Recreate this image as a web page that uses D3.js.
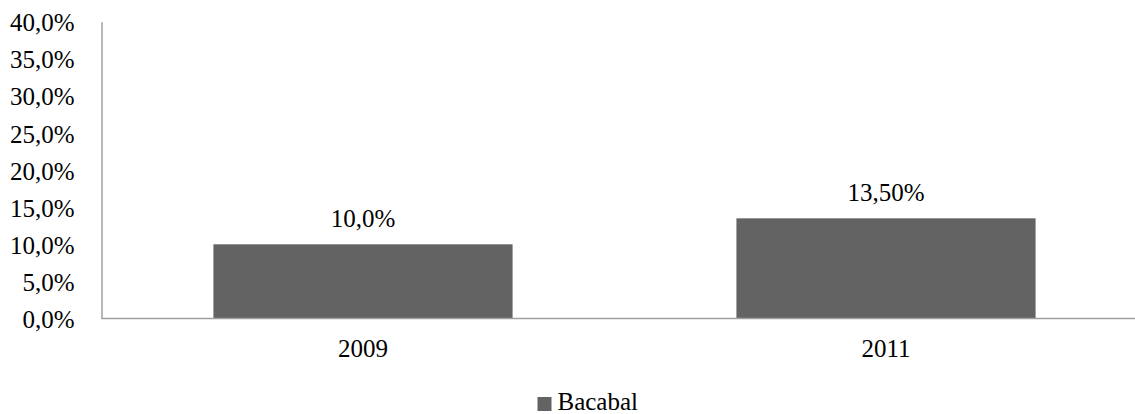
<!DOCTYPE html>
<html>
<head>
<meta charset="utf-8">
<script src="https://cdn.jsdelivr.net/npm/d3@7"></script>
<style>
  html, body { margin: 0; padding: 0; background: #fff; }
  svg { display: block; }
  svg text { font-family: "Liberation Serif", "Times New Roman", serif; fill: #000; }
</style>
</head>
<body>
<svg id="chart" width="1135" height="414"></svg>
<script>
// Share of the population, Bacabal
const categories = ["2009", "2011"];
const values = [10.0, 13.5];
const valueLabels = ["10,0%", "13,50%"];
const seriesName = "Bacabal";
const yTicks = [0, 5, 10, 15, 20, 25, 30, 35, 40];

(function () {
  const svg = d3.select("#chart");
  const W = 1135;
  const plotLeft = 101.5, plotRight = 1147.5, plotTop = 21.7, plotBottom = 318.5;
  const fontSize = 25;
  const barColor = "#636363";
  const axisColor = "#a0a0a0";

  const x = d3.scaleBand()
    .domain(categories)
    .range([plotLeft, plotRight])
    .paddingInner(0.428)
    .paddingOuter(0.214);

  const y = d3.scaleLinear().domain([0, 40]).range([plotBottom, plotTop]);

  const fmt = v => v.toFixed(1).replace(".", ",") + "%";

  // Y axis: labels only, with a plain vertical line
  const yAxis = d3.axisLeft(y).tickValues(yTicks).tickFormat(fmt).tickSize(0).tickPadding(27);
  const gy = svg.append("g").attr("transform", `translate(${plotLeft},0)`).call(yAxis);
  gy.attr("font-family", null).attr("font-size", fontSize);
  gy.select(".domain").attr("stroke", axisColor).attr("stroke-width", 1.5);
  gy.selectAll("text").attr("dy", "0.36em");

  // Bars
  svg.append("g").selectAll("rect")
    .data(categories)
    .join("rect")
    .attr("x", d => x(d))
    .attr("width", x.bandwidth())
    .attr("y", (d, i) => y(values[i]))
    .attr("height", (d, i) => plotBottom - y(values[i]))
    .attr("fill", barColor);

  // X axis
  svg.append("line")
    .attr("x1", plotLeft).attr("x2", W)
    .attr("y1", plotBottom).attr("y2", plotBottom)
    .attr("stroke", axisColor).attr("stroke-width", 1.5);

  const xAxis = d3.axisBottom(x).tickSize(0).tickPadding(21);
  const gx = svg.append("g").attr("transform", `translate(0,${plotBottom})`).call(xAxis);
  gx.attr("font-family", null).attr("font-size", fontSize);
  gx.select(".domain").remove();

  // Value labels
  svg.append("g").selectAll("text")
    .data(categories)
    .join("text")
    .attr("x", d => x(d) + x.bandwidth() / 2)
    .attr("y", (d, i) => y(values[i]) - 17)
    .attr("text-anchor", "middle")
    .attr("font-size", fontSize)
    .text((d, i) => valueLabels[i]);

  // Legend
  const legend = svg.append("g").attr("transform", "translate(537.5,397)");
  legend.append("rect").attr("width", 14).attr("height", 14).attr("fill", barColor);
  legend.append("text")
    .attr("x", 20).attr("y", 13)
    .attr("font-size", fontSize)
    .text(seriesName);
})();
</script>
</body>
</html>
